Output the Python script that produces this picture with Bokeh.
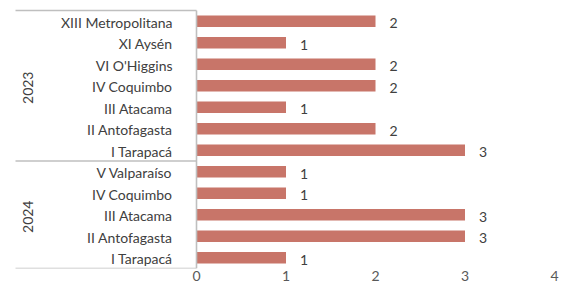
import math
from bokeh.plotting import figure
from bokeh.models import Range1d, FixedTicker, ColumnDataSource
from bokeh.embed import file_html
from bokeh.resources import INLINE
from bokeh.core.properties import value

# ---- data ----
years = ["2023", "2024"]
regions_2023 = ["XIII Metropolitana", "XI Aysén", "VI O'Higgins", "IV Coquimbo",
                "III Atacama", "II Antofagasta", "I Tarapacá"]
values_2023 = [2, 1, 2, 2, 1, 2, 3]
regions_2024 = ["V Valparaíso", "IV Coquimbo", "III Atacama", "II Antofagasta", "I Tarapacá"]
values_2024 = [1, 1, 3, 3, 1]
x_ticks = [0, 1, 2, 3, 4]

# ---- layout constants ----
W, H = 560, 287
PX_PER_UNIT = 89.5
ZERO_PX = 196
ROW_PX = 21.5
TOP_PX = 10
FRAME_BOTTOM = 268
FONT = "Lato"
FS = "14px"
BAR_COLOR = "#C87569"
LINE_COLOR = "#BFBFBF"

labels = regions_2023 + regions_2024
vals = values_2023 + values_2024
ypos = [-i for i in range(len(labels))]

src = ColumnDataSource(dict(y=ypos, v=vals, lab=labels, vt=[str(v) for v in vals]))

x_start = -ZERO_PX / PX_PER_UNIT
x_end = (W - ZERO_PX) / PX_PER_UNIT
y_end = (TOP_PX + ROW_PX / 2) / ROW_PX
y_start = -((FRAME_BOTTOM - TOP_PX - ROW_PX / 2) / ROW_PX)

p = figure(width=W, height=H, output_backend="svg", toolbar_location=None,
           x_range=Range1d(x_start, x_end), y_range=Range1d(y_start, y_end),
           y_axis_location=None, min_border_left=0, min_border_right=0,
           min_border_top=0, min_border_bottom=H - FRAME_BOTTOM)
p.outline_line_color = None
p.xgrid.visible = False
p.ygrid.visible = False
p.background_fill_color = "white"
p.border_fill_color = "white"

ax = p.xaxis[0]
ax.ticker = FixedTicker(ticks=x_ticks)
ax.axis_line_color = None
ax.major_tick_line_color = None
ax.minor_tick_line_color = None
ax.major_tick_out = 0
ax.major_label_text_font = FONT
ax.major_label_text_font_size = FS
ax.major_label_text_color = "#595959"
ax.major_label_standoff = 2

# bars
p.hbar(y="y", left=0, right="v", height=0.54, source=src, fill_color=BAR_COLOR,
       line_color=None)

# value labels
p.text(x="v", y="y", text="vt", source=src, x_offset=18, y_offset=2,
       text_align="center", text_baseline="middle", text_font=value(FONT),
       text_font_size=FS, text_color="#404040")

# category labels
p.text(x=0, y="y", text="lab", source=src, x_offset=-24, y_offset=1,
       text_align="right", text_baseline="middle", text_font=value(FONT),
       text_font_size=FS, text_color="#404040")

# group (year) labels
n23 = len(regions_2023)
n24 = len(regions_2024)
gy = [-(n23 - 1) / 2, -(n23 + (n24 - 1) / 2)]
p.text(x=[0, 0], y=gy, text=years, x_offset=27.5 - ZERO_PX, y_offset=2, angle=math.pi / 2,
       text_align="center", text_baseline="middle", text_font=value(FONT),
       text_font_size=FS, text_color="#404040")

# category axis lines
left_x = (15 - ZERO_PX) / PX_PER_UNIT
bounds = [0.5, 0.5 - n23, 0.5 - n23 - n24]
p.segment(x0=[left_x] * 3, y0=bounds, x1=[0] * 3, y1=bounds,
          line_color=LINE_COLOR, line_width=1.6)
p.segment(x0=[0], y0=[bounds[0]], x1=[0], y1=[bounds[-1]],
          line_color=LINE_COLOR, line_width=1.6)

open("out.html", "w").write(file_html(p, INLINE))
